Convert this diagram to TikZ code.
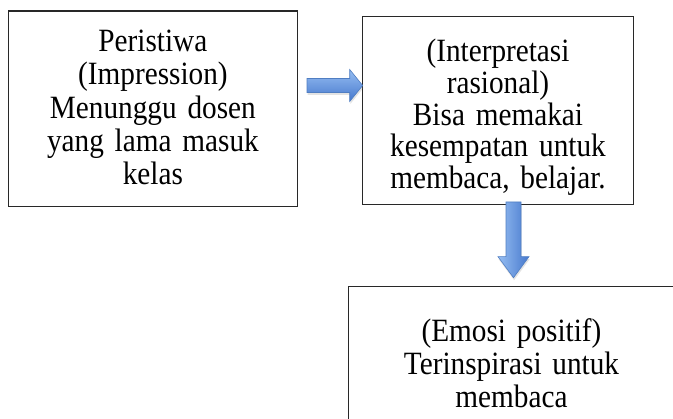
\documentclass[tikz,border=0pt]{standalone}
\usepackage{fontspec}
\setmainfont{Liberation Serif}[FakeStretch=0.9]
\usetikzlibrary{calc,shadows}
\definecolor{boxline}{RGB}{40,40,40}
\definecolor{arrlight}{RGB}{150,190,242}
\definecolor{arrdark}{RGB}{70,120,205}
\definecolor{arredge}{RGB}{80,126,194}
\begin{document}
\begin{tikzpicture}[x=1pt,y=-1pt,
  box/.style={draw=boxline,line width=1.2pt,rectangle,inner sep=0pt,outer sep=0pt},
  txt/.style={anchor=base,inner sep=0pt,align=center,text width=#1},
  blockarrow/.style={draw=arredge,line width=0.6pt,line join=miter,
    drop shadow={opacity=0.22,shadow xshift=0.6pt,shadow yshift=-2.5pt}}]
\useasboundingbox (0,0) rectangle (673,419);
\clip (0,0) rectangle (673,419);
\fill[white] (0,0) rectangle (673,419);

% boxes
\node[box,minimum width=288.8pt,minimum height=195.7pt] (b1) at (152.9,108.85) {};
\node[box,minimum width=270.6pt,minimum height=188pt] (b2) at (498,110.7) {};
\node[box,minimum width=326pt,minimum height=150pt] (b3) at (511.5,361.7) {};

% texts
\node[txt=280pt,font=\fontsize{32.5}{33.3}\selectfont] (t1) at (152.9,51.7)
  {Peristiwa\\(Impression)\\Menunggu dosen\\yang lama masuk\\kelas};
\node[txt=265pt,font=\fontsize{32.5}{31.7}\selectfont] (t2) at (498,61.7)
  {(Interpretasi\\rasional)\\Bisa memakai\\kesempatan untuk\\membaca, belajar.};
\node[txt=320pt,font=\fontsize{32.5}{33}\selectfont] (t3) at (511.5,341.7)
  {(Emosi positif)\\Terinspirasi untuk\\membaca};

% right block arrow from b1 to b2
\coordinate (a1s) at ($(b1.east |- 0,85.5)+(9.7,0)$);
\coordinate (a1e) at (b2.west |- a1s);
\shadedraw[blockarrow,top color=arrlight,bottom color=arrdark]
  ($(a1s)+(0,-7)$) -- ($(a1e)+(-13,-7)$) -- ($(a1e)+(-13,-16)$) -- (a1e)
  -- ($(a1e)+(-13,16)$) -- ($(a1e)+(-13,7)$) -- ($(a1s)+(0,7)$) -- cycle;

% down block arrow from b2 to b3
\coordinate (a2s) at ($(513.5,0 |- b2.south)+(0,-2.7)$);
\coordinate (a2e) at ($(a2s |- b3.north)+(0,-9)$);
\shadedraw[blockarrow,left color=arrlight,right color=arrdark]
  ($(a2s)+(-7.5,0)$) -- ($(a2e)+(-7.5,-21)$) -- ($(a2e)+(-15.5,-21)$) -- (a2e)
  -- ($(a2e)+(15.5,-21)$) -- ($(a2e)+(7.5,-21)$) -- ($(a2s)+(7.5,0)$) -- cycle;
\end{tikzpicture}
\end{document}
